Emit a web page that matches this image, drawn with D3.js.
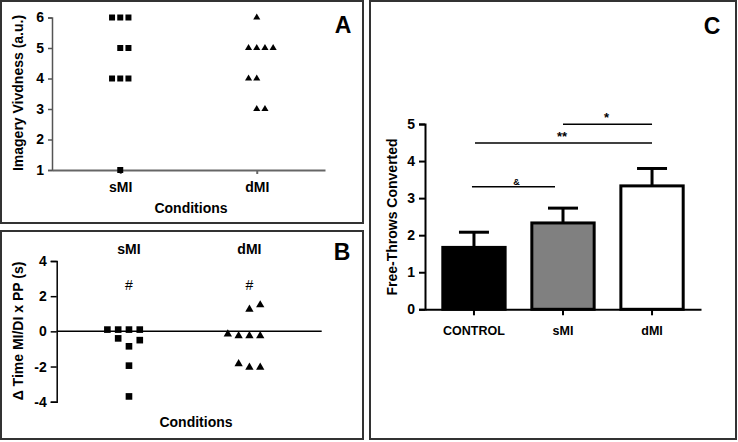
<!DOCTYPE html>
<html><head><meta charset="utf-8">
<script src="https://cdn.jsdelivr.net/npm/d3@7"></script>
<style>
body{margin:0;background:#fff;}
text{font-family:"Liberation Sans",Arial,sans-serif;}
</style></head>
<body><svg id="c" width="738" height="442"></svg>
<script>
// ---------- DATA ----------
// Panel A: imagery vividness (a.u.)
const condA = ["sMI", "dMI"];
const vividSMI = [6, 6, 6, 5, 5, 4, 4, 4, 1];
const slotSMI_A = [-1, 0, 1, 0, 1, -1, 0, 1, 0];
const vividDMI = [6, 5, 5, 5, 5, 4, 4, 3, 3];
const slotDMI_A = [0, -1, 0, 1, 2, -1, 0, 0, 1];
const ticksA = [1, 2, 3, 4, 5, 6];

// Panel B: delta time MI/DI x PP (s)
const condB = ["sMI", "dMI"];
const deltaSMI = [0.1, 0.1, 0.1, 0.1, -0.4, -0.5, -0.85, -1.95, -3.7];
const slotSMI_B = [-2, -1, 0, 1, -1, 1, 0, 0, 0];
const deltaDMI = [-0.15, -0.25, -0.25, -0.25, 1.25, 1.5, -1.85, -2.05, -2.05];
const slotDMI_B = [-2, -1, 0, 1, 0, 1, -1, 0, 1];
const ticksB = [-4, -2, 0, 2, 4];
const markB = ["#", "#"];

// Panel C: free-throws converted
const groupsC = ["CONTROL", "sMI", "dMI"];
const meansC = [1.67, 2.33, 3.33];
const semC = [0.41, 0.40, 0.47];
const ticksC = [0, 1, 2, 3, 4, 5];
const sigFrom = ["CONTROL", "CONTROL", "sMI"];
const sigTo = ["sMI", "dMI", "dMI"];
const sigLevel = [3.31, 4.49, 4.99];
const sigLabel = ["&", "**", "*"];

// ---------- DRAW ----------
const svg = d3.select("#c");
const FONT = '"Liberation Sans",Arial,sans-serif';
const fmt = d => String(d);

// panel frames
const frames = [[1,1,362,222],[1,231,362,208],[370,1,366,438]];
svg.selectAll("rect.frame").data(frames).join("rect").attr("class","frame")
  .attr("x",d=>d[0]).attr("y",d=>d[1]).attr("width",d=>d[2]).attr("height",d=>d[3])
  .attr("fill","none").attr("stroke","#333").attr("stroke-width",2);

function styleAxis(g, color, sw, fs){
  g.selectAll("path,line").attr("stroke",color).attr("stroke-width",sw);
  g.selectAll("text").attr("fill","#000").attr("font-size",fs).attr("font-weight","bold")
   .attr("font-family",FONT);
}
function panelLetter(t,x,y){
  svg.append("text").attr("x",x).attr("y",y).attr("text-anchor","middle")
    .attr("font-size",23).attr("font-weight","bold").text(t);
}
function yLabel(t,x,y){
  svg.append("text").attr("transform",`translate(${x},${y}) rotate(-90)`)
    .attr("text-anchor","middle").attr("dominant-baseline","central")
    .attr("font-size",14).attr("font-weight","bold").text(t);
}

// ---- Panel A ----
const yA = d3.scaleLinear().domain([1,6]).range([170,17.5]);
const xA = d3.scalePoint().domain(condA).range([52,325]).padding(0.5);
const slotA = 8.2;
const gA = svg.append("g");
const axYA = gA.append("g").attr("transform","translate(52,0)")
  .call(d3.axisLeft(yA).tickValues(ticksA).tickFormat(fmt).tickSize(4).tickPadding(4).tickSizeOuter(4));
styleAxis(axYA,"#555",1.5,14);
const axXA = gA.append("g").attr("transform","translate(0,170)")
  .call(d3.axisBottom(xA).tickSize(4).tickPadding(8).tickSizeOuter(0));
styleAxis(axXA,"#666",2,14);
const sqA = d3.symbol().type(d3.symbolSquare).size(36);
const trA = d3.symbol().type(d3.symbolTriangle).size(22);
gA.selectAll("path.sA").data(vividSMI).join("path").attr("class","sA")
  .attr("d",sqA).attr("fill","#000")
  .attr("transform",(d,i)=>`translate(${xA("sMI")+slotSMI_A[i]*slotA},${yA(d)})`);
gA.selectAll("path.tA").data(vividDMI).join("path").attr("class","tA")
  .attr("d",trA).attr("fill","#000")
  .attr("transform",(d,i)=>`translate(${xA("dMI")+slotDMI_A[i]*slotA},${yA(d)})`);
gA.append("text").attr("x",191).attr("y",213).attr("text-anchor","middle")
  .attr("font-size",14).attr("font-weight","bold").text("Conditions");
yLabel("Imagery Vivdness (a.u.)",18,93);
panelLetter("A",343,33);

// ---- Panel B ----
const yB = d3.scaleLinear().domain([-4,4]).range([401.7,261]);
const xB = d3.scalePoint().domain(condB).range([56.7,321.7]).padding(0.6);
const slotB = 10.8;
const gB = svg.append("g");
const axYB = gB.append("g").attr("transform","translate(56.7,0)")
  .call(d3.axisLeft(yB).tickValues(ticksB).tickFormat(fmt).tickSize(6).tickPadding(4).tickSizeOuter(6));
styleAxis(axYB,"#000",1.5,14);
gB.append("line").attr("x1",56.7).attr("x2",321.7).attr("y1",yB(0)).attr("y2",yB(0))
  .attr("stroke","#000").attr("stroke-width",1.5);
gB.selectAll("text.hdr").data(condB).join("text").attr("class","hdr")
  .attr("x",d=>xB(d)).attr("y",253.5).attr("text-anchor","middle")
  .attr("font-size",14).attr("font-weight","bold").text(d=>d);
gB.selectAll("text.hash").data(markB).join("text").attr("class","hash")
  .attr("x",(d,i)=>xB(condB[i])).attr("y",290).attr("text-anchor","middle")
  .attr("font-size",14).text(d=>d);
const sqB = d3.symbol().type(d3.symbolSquare).size(44);
const trB = d3.symbol().type(d3.symbolTriangle).size(30);
gB.selectAll("path.sB").data(deltaSMI).join("path").attr("class","sB")
  .attr("d",sqB).attr("fill","#000")
  .attr("transform",(d,i)=>`translate(${xB("sMI")+slotSMI_B[i]*slotB},${yB(d)})`);
gB.selectAll("path.tB").data(deltaDMI).join("path").attr("class","tB")
  .attr("d",trB).attr("fill","#000")
  .attr("transform",(d,i)=>`translate(${xB("dMI")+slotDMI_B[i]*slotB},${yB(d)})`);
gB.append("text").attr("x",196).attr("y",427).attr("text-anchor","middle")
  .attr("font-size",14).attr("font-weight","bold").text("Conditions");
yLabel("\u0394 Time MI/DI x PP (s)",18,331);
panelLetter("B",342,260);

// ---- Panel C ----
const yC = d3.scaleLinear().domain([0,5]).range([309.3,124]);
const xC = d3.scaleBand().domain(groupsC).range([425,701]).paddingInner(0.3).paddingOuter(0.2);
const fillsC = ["#000","#808080","#fff"];
const gC = svg.append("g");
gC.selectAll("rect.bar").data(meansC).join("rect").attr("class","bar")
  .attr("x",(d,i)=>xC(groupsC[i])).attr("width",xC.bandwidth())
  .attr("y",d=>yC(d)).attr("height",d=>yC(0)-yC(d))
  .attr("fill",(d,i)=>fillsC[i]).attr("stroke","#000").attr("stroke-width",3);
const cx = g => xC(g)+xC.bandwidth()/2;
gC.selectAll("line.eb").data(meansC).join("line").attr("class","eb")
  .attr("x1",(d,i)=>cx(groupsC[i])).attr("x2",(d,i)=>cx(groupsC[i]))
  .attr("y1",d=>yC(d)).attr("y2",(d,i)=>yC(d+semC[i]))
  .attr("stroke","#000").attr("stroke-width",3);
gC.selectAll("line.cap").data(meansC).join("line").attr("class","cap")
  .attr("x1",(d,i)=>cx(groupsC[i])-15).attr("x2",(d,i)=>cx(groupsC[i])+15)
  .attr("y1",(d,i)=>yC(d+semC[i])).attr("y2",(d,i)=>yC(d+semC[i]))
  .attr("stroke","#000").attr("stroke-width",3);
const axYC = gC.append("g").attr("transform","translate(425,0)")
  .call(d3.axisLeft(yC).tickValues(ticksC).tickFormat(fmt).tickSize(6).tickPadding(4).tickSizeOuter(6));
styleAxis(axYC,"#000",2,14);
const axXC = gC.append("g").attr("transform","translate(0,309.3)")
  .call(d3.axisBottom(xC).tickSize(6).tickPadding(11).tickSizeOuter(0));
styleAxis(axXC,"#000",2,12.5);
// significance bars
const insetStart = [-2, 1, 0], insetEnd = [-8, 0, 0];
gC.selectAll("line.sig").data(sigLevel).join("line").attr("class","sig")
  .attr("x1",(d,i)=>cx(sigFrom[i])+insetStart[i]).attr("x2",(d,i)=>cx(sigTo[i])+insetEnd[i])
  .attr("y1",d=>yC(d)).attr("y2",d=>yC(d))
  .attr("stroke","#000").attr("stroke-width",1.5);
gC.selectAll("text.sig").data(sigLabel).join("text").attr("class","sig")
  .attr("x",(d,i)=>(cx(sigFrom[i])+cx(sigTo[i]))/2 + (i===0?-2:-1))
  .attr("y",(d,i)=>yC(sigLevel[i])-2).attr("text-anchor","middle")
  .attr("font-size",(d)=>d==="&"?9:13).attr("font-weight","bold").text(d=>d);
yLabel("Free-Throws Converted",392,217);
panelLetter("C",712,34);
</script></body></html>
